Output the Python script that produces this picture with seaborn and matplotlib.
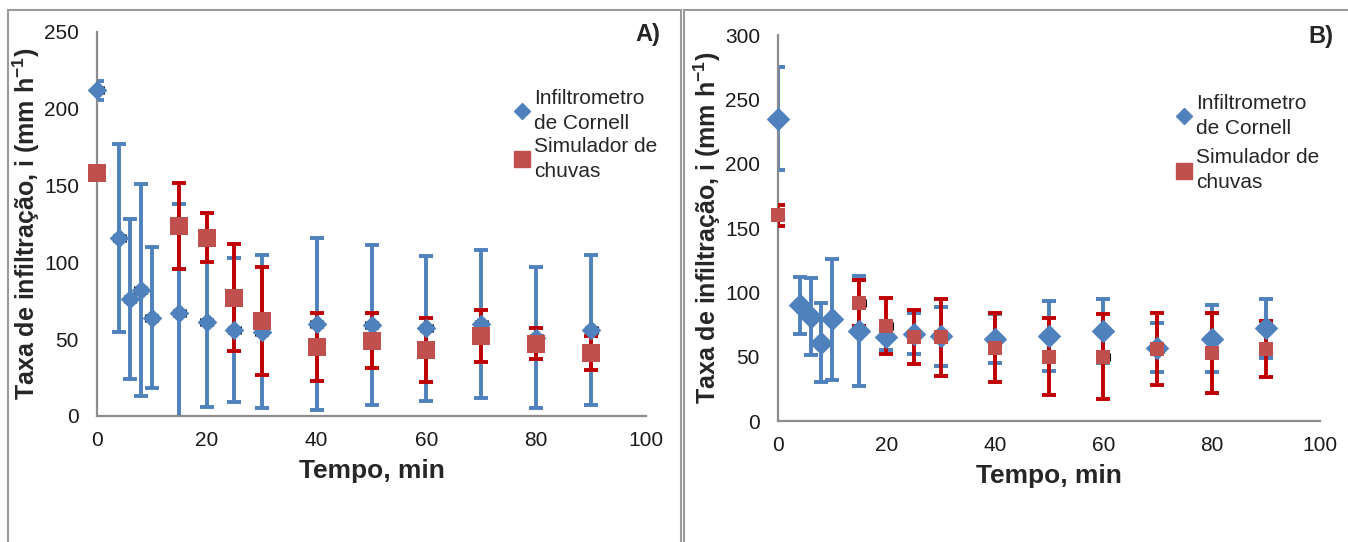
import numpy as np
import pandas as pd
import matplotlib
matplotlib.use("Agg")
import matplotlib.pyplot as plt
from matplotlib.patches import Rectangle
from matplotlib.lines import Line2D
import seaborn as sns

# Dados - painel A
tempo_cornell_a = [0, 4, 6, 8, 10, 15, 20, 25, 30, 40, 50, 60, 70, 80, 90]
taxa_cornell_a = [212, 116, 76, 82, 64, 67, 61, 56, 55, 60, 59, 57, 60, 51, 56]
erro_cornell_a = [6, 61, 52, 69, 46, 71, 55, 47, 50, 56, 52, 47, 48, 46, 49]

tempo_chuva_a = [0, 15, 20, 25, 30, 40, 50, 60, 70, 80, 90]
taxa_chuva_a = [158, 124, 116, 77, 62, 45, 49, 43, 52, 47, 41]
erro_chuva_a = [2, 28, 16, 35, 35, 22, 18, 21, 17, 10, 11]

# Dados - painel B
tempo_cornell_b = [0, 4, 6, 8, 10, 15, 20, 25, 30, 40, 50, 60, 70, 80, 90]
taxa_cornell_b = [235, 90, 81, 61, 79, 70, 65, 68, 66, 64, 66, 70, 57, 64, 72]
erro_cornell_b = [40, 22, 30, 31, 47, 43, 10, 16, 23, 19, 27, 25, 19, 26, 23]

tempo_chuva_b = [0, 15, 20, 25, 30, 40, 50, 60, 70, 80, 90]
taxa_chuva_b = [160, 92, 74, 65, 65, 57, 50, 50, 56, 53, 56]
erro_chuva_b = [8, 18, 22, 21, 30, 27, 30, 33, 28, 31, 22]

erro_tempo = 1  # barra horizontal (preta)

sns.set_style("white")
plt.rcParams["font.family"] = ["Liberation Sans", "DejaVu Sans"]
plt.rcParams["mathtext.fontset"] = "custom"
plt.rcParams["mathtext.rm"] = "Liberation Sans"
plt.rcParams["mathtext.bf"] = "Liberation Sans:bold"

azul = "#4F81BD"
vermelho = "#C0504D"
vermelho_erro = "#C00000"

W, H = 1348, 542
fig = plt.figure(figsize=(W / 100, H / 100), dpi=100)
ax_a = fig.add_axes([0.072, 0.2325, 0.4073, 0.7085])
ax_b = fig.add_axes([0.5772, 0.2232, 0.402, 0.712])

paineis = [
    (ax_a, "A)", 250, tempo_cornell_a, taxa_cornell_a, erro_cornell_a,
     tempo_chuva_a, taxa_chuva_a, erro_chuva_a, 10, 12.5,
     (660, 35), (516, 89), 0.2),
    (ax_b, "B)", 300, tempo_cornell_b, taxa_cornell_b, erro_cornell_b,
     tempo_chuva_b, taxa_chuva_b, erro_chuva_b, 12, 9.5,
     (1333, 37), (1178, 94), 0.5),
]

for (ax, rotulo, ymax, tc, yc, ec, ts, ys, es, ms_d, ms_s,
     pos_rotulo, pos_leg, esp_leg) in paineis:
    dc = pd.DataFrame({"tempo": tc, "taxa": yc})
    ds = pd.DataFrame({"tempo": ts, "taxa": ys})

    ax.errorbar(tc, yc, yerr=ec, fmt="none", ecolor=azul, elinewidth=2.8,
                capsize=5, capthick=2.8, zorder=2)
    ax.errorbar(tc, yc, xerr=erro_tempo, fmt="none", ecolor="black",
                elinewidth=1, capsize=3, capthick=2.2, zorder=2.5)
    ax.errorbar(ts, ys, yerr=es, fmt="none", ecolor=vermelho_erro, elinewidth=2.8,
                capsize=5, capthick=2.8, zorder=3)
    ax.errorbar(ts, ys, xerr=erro_tempo, fmt="none", ecolor="black",
                elinewidth=1, capsize=3, capthick=2.2, zorder=3.5)

    sns.scatterplot(data=dc, x="tempo", y="taxa", ax=ax, marker="D", s=ms_d ** 2,
                    color=azul, edgecolor=azul, linewidth=0, zorder=4, clip_on=False)
    sns.scatterplot(data=ds, x="tempo", y="taxa", ax=ax, marker="s", s=ms_s ** 2,
                    color=vermelho, edgecolor=vermelho, linewidth=0, zorder=5, clip_on=False)

    ax.set_xlim(0, 100)
    ax.set_ylim(0, ymax)
    ax.set_xticks(range(0, 101, 20))
    ax.set_yticks(range(0, ymax + 1, 50))
    ax.tick_params(length=0, labelsize=15, colors="#1a1a1a")
    ax.tick_params(axis="x", pad=11)
    ax.tick_params(axis="y", pad=13)
    for s in ["top", "right"]:
        ax.spines[s].set_visible(False)
    for s in ["left", "bottom"]:
        ax.spines[s].set_color("#8c8c8c")
        ax.spines[s].set_linewidth(1.6)

    ax.set_xlabel("Tempo, min", fontsize=19, fontweight="bold", labelpad=6)
    ax.set_ylabel("Taxa de infiltração, i (mm h$^{\\mathbf{-1}}$)", fontsize=18,
                  fontweight="bold", labelpad=1)
    fig.text(pos_rotulo[0] / W, 1 - pos_rotulo[1] / H, rotulo, ha="right",
             va="center", fontsize=17, fontweight="bold")

    handles = [
        Line2D([], [], marker="D", linestyle="none", color=azul, markersize=8),
        Line2D([], [], marker="s", linestyle="none", color=vermelho, markersize=11),
    ]
    leg = ax.legend(handles, ["Infiltrometro\nde Cornell", "Simulador de\nchuvas"],
                    loc="upper left", bbox_to_anchor=(pos_leg[0] / W, 1 - pos_leg[1] / H),
                    bbox_transform=fig.transFigure, frameon=False,
                    fontsize=15, handlelength=0.6, handletextpad=0.25,
                    labelspacing=esp_leg, borderaxespad=0, borderpad=0)
    for t in leg.get_texts():
        t.set_linespacing(1.4)

# molduras dos paineis
fig.patches.append(Rectangle((8 / W, -0.05), 673 / W, 1.05 - 10 / H,
                             transform=fig.transFigure, fill=False,
                             edgecolor="#9a9a9a", linewidth=1.5))
fig.patches.append(Rectangle((684 / W, -0.05), 0.6, 1.05 - 10 / H,
                             transform=fig.transFigure, fill=False,
                             edgecolor="#9a9a9a", linewidth=1.5))

fig.savefig("out.png", dpi=100)
